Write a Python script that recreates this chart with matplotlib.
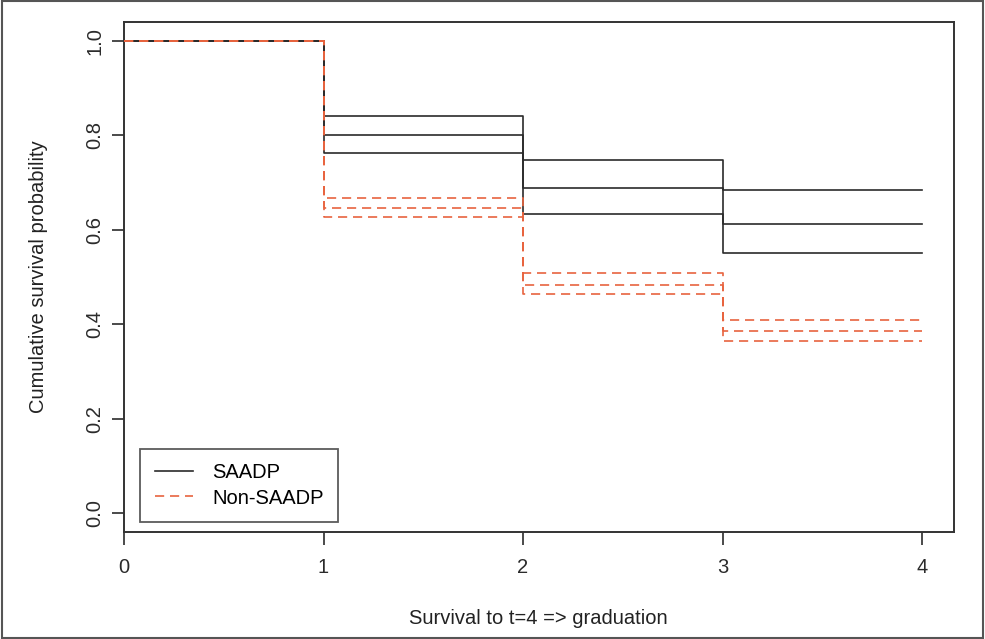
import matplotlib
matplotlib.use("Agg")
import matplotlib.pyplot as plt
from matplotlib.patches import Rectangle
from matplotlib.lines import Line2D

plt.rcParams['font.family'] = ['Liberation Sans', 'DejaVu Sans']

# Kaplan-Meier estimates with 95% bounds at t = 0..4
times = [0, 1, 2, 3, 4]
saadp_est = [1.0, 0.800, 0.688, 0.612, 0.612]
saadp_upper = [1.0, 0.842, 0.748, 0.684, 0.684]
saadp_lower = [1.0, 0.762, 0.633, 0.550, 0.550]
non_est = [1.0, 0.647, 0.484, 0.386, 0.386]
non_upper = [1.0, 0.667, 0.508, 0.409, 0.409]
non_lower = [1.0, 0.628, 0.463, 0.365, 0.365]

black = '#2b2b2b'
red = '#e8643f'
fs = 14.5

fig = plt.figure(figsize=(9.85, 6.39), dpi=100)
ax = fig.add_axes([124/985, 1 - 532/639, (954 - 124)/985, (532 - 22)/639])

for ys in (saadp_upper, saadp_est, saadp_lower):
    ax.step(times, ys, where='post', color=black, lw=1.2, zorder=2)
for ys in (non_upper, non_est, non_lower):
    ax.step(times, ys, where='post', color=red, lw=1.2,
            linestyle=(0, (5.5, 3.5)), zorder=3)

ax.set_xlim(0, 4.16)
ax.set_ylim(-0.04, 1.04)
ax.set_xticks([0, 1, 2, 3, 4])
ax.set_yticks([0.0, 0.2, 0.4, 0.6, 0.8, 1.0])
ax.set_yticklabels(['0.0', '0.2', '0.4', '0.6', '0.8', '1.0'],
                   rotation=90, va='center')
ax.tick_params(direction='out', length=9, width=1.2, colors=black,
               labelsize=fs, pad=10)
ax.tick_params(axis='y', pad=5)
for s in ax.spines.values():
    s.set_linewidth(1.4)
    s.set_color('#333333')

fig.text(39/985, 1 - 277/639, 'Cumulative survival probability',
         rotation=90, ha='center', va='center', fontsize=fs, color='#222222')
fig.text(538/985, 1 - 619/639, 'Survival to t=4 => graduation',
         ha='center', va='center', fontsize=fs, color='#222222')

handles = [Line2D([], [], color=black, lw=1.2),
           Line2D([], [], color=red, lw=1.2, linestyle=(0, (5.5, 3.5)))]
leg = ax.legend(handles, ['SAADP', 'Non-SAADP'], loc='lower left',
                bbox_to_anchor=(16/830, 10/510), fontsize=fs,
                frameon=True, fancybox=False, handlelength=1.9,
                handletextpad=0.95, borderpad=0.72, labelspacing=0.3,
                borderaxespad=0)
leg.get_frame().set_edgecolor('#333333')
leg.get_frame().set_linewidth(1.3)

# thin frame round the whole figure
fig.patches.append(Rectangle((0.002, 0.002), 0.996, 0.996,
                             transform=fig.transFigure, fill=False,
                             edgecolor='#555555', lw=1.5))

fig.savefig('out.png', dpi=100)
